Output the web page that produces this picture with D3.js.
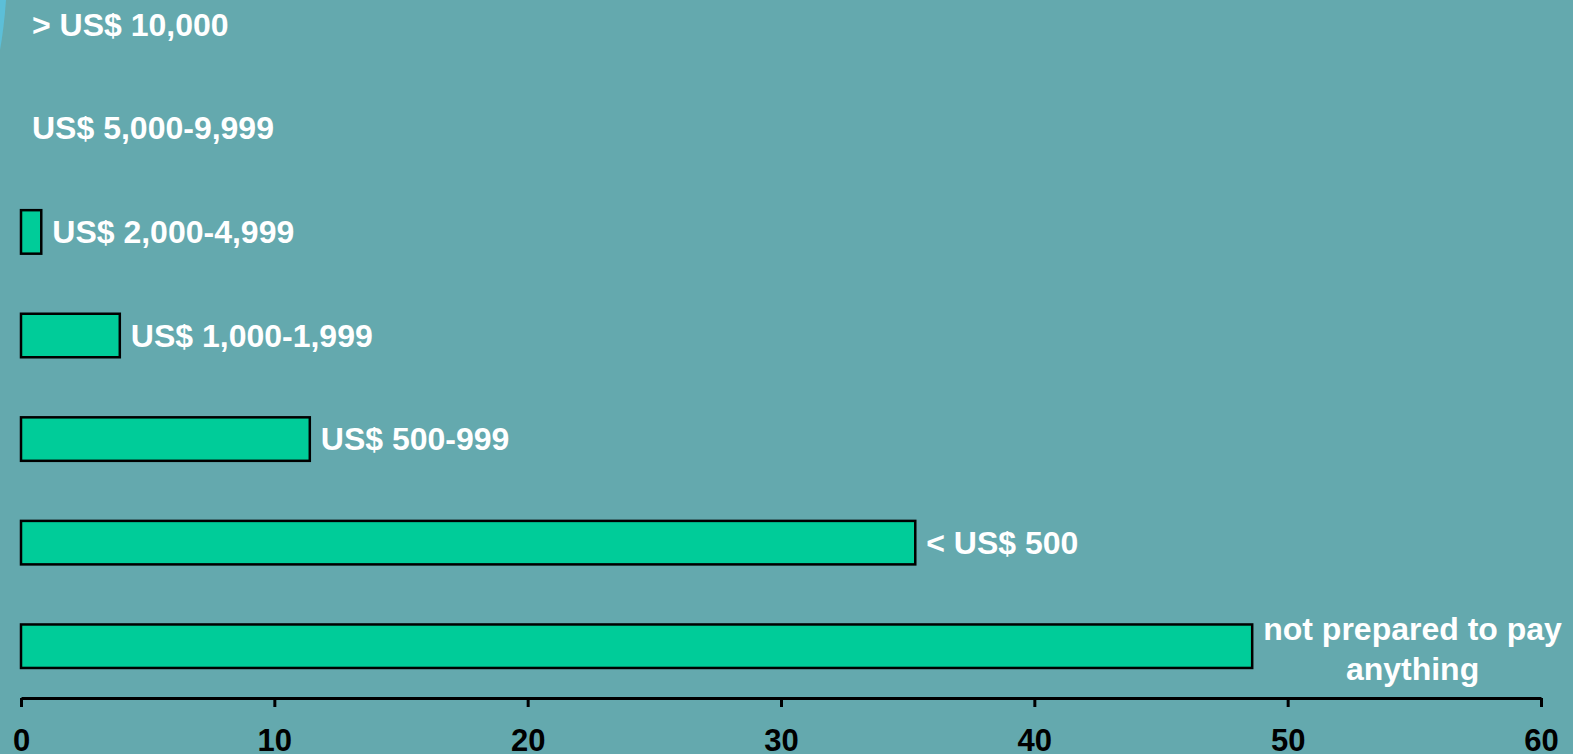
<!DOCTYPE html>
<html>
<head>
<meta charset="utf-8">
<script src="https://cdn.jsdelivr.net/npm/d3@7"></script>
<style>
  html, body { margin: 0; padding: 0; background: #64A9AE; overflow: hidden; }
  svg { display: block; }
</style>
</head>
<body>
<svg id="chart" width="1573" height="754"></svg>
<script>
// Willingness to pay, share of respondents (%)
const categories = [
  "> US$ 10,000",
  "US$ 5,000-9,999",
  "US$ 2,000-4,999",
  "US$ 1,000-1,999",
  "US$ 500-999",
  "< US$ 500",
  "not prepared to pay\nanything"
];
const values = [0, 0, 0.8, 3.9, 11.4, 35.3, 48.6];
const tickValues = [0, 10, 20, 30, 40, 50, 60];

const W = 1573, H = 754;
const svg = d3.select("#chart");

svg.append("rect").attr("width", W).attr("height", H).attr("fill", "#64A9AE");

// decorative arc edge in the top-left corner
svg.append("path")
  .attr("d", "M0,0 L6,0 Q4,28 0,50 Z")
  .attr("fill", "#5CBFD8");

const x = d3.scaleLinear().domain([0, 60]).range([21, 1541]);
const y = d3.scaleBand().domain(categories).range([-27, 698])
  .paddingInner(0.58).paddingOuter(0.29);

const data = categories.map((c, i) => ({ c, v: values[i] }));

// bars
svg.append("g").selectAll("rect")
  .data(data.filter(d => d.v > 0))
  .join("rect")
  .attr("x", x(0))
  .attr("y", d => y(d.c))
  .attr("width", d => x(d.v) - x(0))
  .attr("height", y.bandwidth())
  .attr("fill", "#00CC99")
  .attr("stroke", "#000")
  .attr("stroke-width", 2.5);

// category labels at the end of each bar
const font = "'Liberation Sans', Arial, sans-serif";
const labels = svg.append("g")
  .attr("font-family", font)
  .attr("font-weight", "bold")
  .attr("font-size", 32)
  .attr("fill", "#fff");

data.forEach(d => {
  const lines = d.c.split("\n");
  const cy = y(d.c) + y.bandwidth() / 2;
  const x0 = x(d.v) + 11;
  if (lines.length === 1) {
    labels.append("text")
      .attr("x", x0)
      .attr("y", cy + 11)
      .text(d.c);
  } else {
    const t = labels.append("text").attr("text-anchor", "middle");
    const spans = lines.map((ln, i) =>
      t.append("tspan").attr("y", cy - 6.5 + i * 40).text(ln));
    const maxW = d3.max(spans, s => s.node().getComputedTextLength());
    spans.forEach(s => s.attr("x", x0 + maxW / 2));
  }
});

// x axis
const axis = svg.append("g")
  .attr("transform", "translate(0,698)")
  .call(d3.axisBottom(x).tickValues(tickValues).tickSize(9).tickSizeOuter(0).tickPadding(0));
axis.select(".domain").attr("stroke", "#000").attr("stroke-width", 3);
axis.selectAll(".tick line").attr("stroke", "#000").attr("stroke-width", 3);
axis.selectAll(".tick text")
  .attr("fill", "#000")
  .attr("font-family", font)
  .attr("font-weight", "bold")
  .attr("font-size", 31)
  .attr("dy", null)
  .attr("y", 53);
</script>
</body>
</html>
